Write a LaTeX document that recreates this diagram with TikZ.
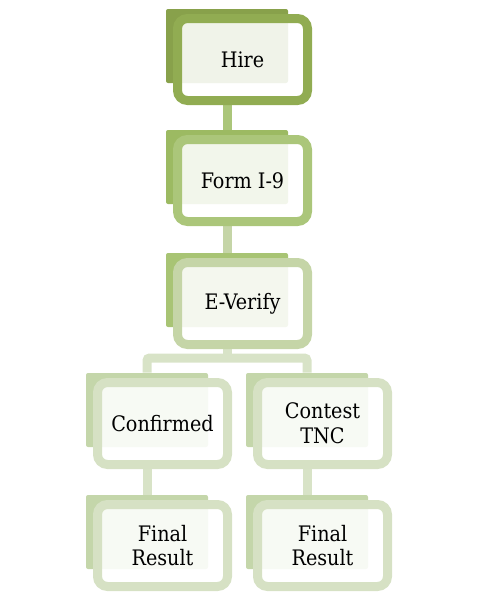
\documentclass[tikz,border=0pt]{standalone}
\usepackage{fontspec}
\setmainfont{DejaVu Serif Condensed}
\usetikzlibrary{backgrounds}
\definecolor{bkA}{RGB}{136,161,75}
\definecolor{frA}{RGB}{145,172,82}
\definecolor{bkB}{RGB}{156,186,98}
\definecolor{frB}{RGB}{171,198,122}
\definecolor{bkC}{RGB}{168,196,116}
\definecolor{frC}{RGB}{197,213,167}
\definecolor{bkD}{RGB}{196,214,170}
\definecolor{frD}{RGB}{214,225,196}
\definecolor{cnA}{RGB}{171,198,122}
\definecolor{cnB}{RGB}{197,213,167}
\definecolor{cnC}{RGB}{216,227,199}
\tikzset{
  backbox/.style={fill=#1, draw=none, rounded corners=1.5pt, minimum width=91.5pt, minimum height=55.5pt, inner sep=0pt},
  framebox/.style={draw=#1, line width=6.75pt, rounded corners=7.5pt, fill=white, fill opacity=0.88, text opacity=1,
    minimum width=97.5pt, minimum height=61.5pt, inner sep=0pt, align=center, font=\fontsize{16}{18.5}\selectfont},
  conn/.style={draw=#1, line width=6.75pt}
}
\begin{document}
\begin{tikzpicture}[x=0.75pt,y=-0.75pt]
\useasboundingbox (0,0) rectangle (476,600);
% level 1
\node[backbox=bkA] (b1) at (227,46) {};
\node[framebox=frA] (f1) at (242.5,59.5) {Hire};
% level 2
\node[backbox=bkB] (b2) at (227,167) {};
\node[framebox=frB] (f2) at (242.5,180.5) {Form I-9};
% level 3
\node[backbox=bkC] (b3) at (227,290) {};
\node[framebox=frC] (f3) at (242.5,303.5) {E-Verify};
% level 4
\node[backbox=bkD] (b4l) at (147,410) {};
\node[framebox=frD] (f4l) at (162.5,423.5) {Confirmed};
\node[backbox=bkD] (b4r) at (307,410) {};
\node[framebox=frD] (f4r) at (322.5,423.5) {Contest\\TNC};
% level 5
\node[backbox=bkD] (b5l) at (147,532) {};
\node[framebox=frD] (f5l) at (162.5,545.5) {Final\\Result};
\node[backbox=bkD] (b5r) at (307,532) {};
\node[framebox=frD] (f5r) at (322.5,545.5) {Final\\Result};
\coordinate (bar) at (0,358);
\begin{pgfonlayer}{background}
\draw[conn=cnA] (b1.south |- f1.south) -- (b2.north);
\draw[conn=cnB] (b2.south |- f2.south) -- (b3.north);
\draw[conn=cnC] (b3.south |- f3.south) -- (b3.south |- bar);
\draw[conn=cnC, rounded corners=2pt] (b4l.north) -- (b4l.north |- bar) -- (b4r.north |- bar) -- (b4r.north);
\draw[conn=cnC] (b4l.south |- f4l.south) -- (b5l.north);
\draw[conn=cnC] (b4r.south |- f4r.south) -- (b5r.north);
\end{pgfonlayer}
\end{tikzpicture}
\end{document}
